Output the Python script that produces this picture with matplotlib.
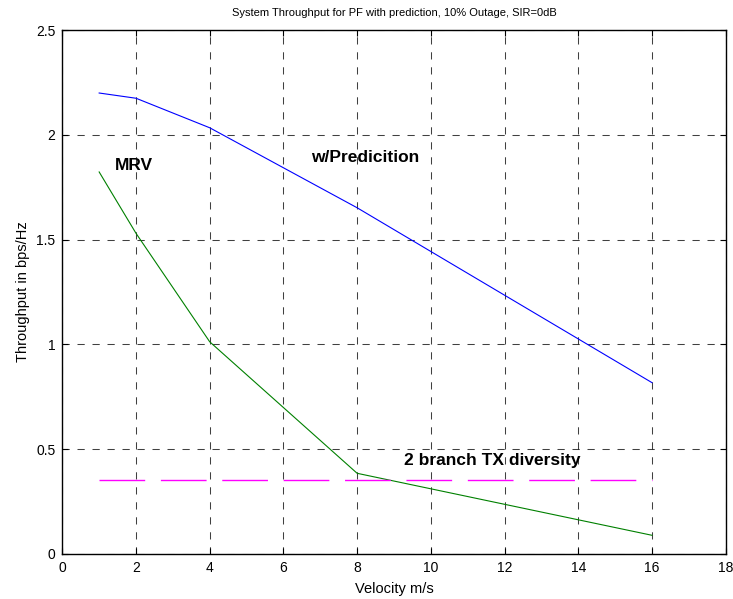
import matplotlib
matplotlib.use("Agg")
import matplotlib.pyplot as plt

# data
velocity = [1, 2, 4, 8, 16]
thr_prediction = [2.20, 2.175, 2.034, 1.652, 0.817]
thr_mrv = [1.823, 1.53, 1.012, 0.384, 0.088]
tx_div_x = [1, 16]
tx_div_y = [0.352, 0.352]

x_ticks = [0, 2, 4, 6, 8, 10, 12, 14, 16, 18]
y_ticks = [0, 0.5, 1, 1.5, 2, 2.5]

plt.rcParams['font.family'] = ['Liberation Sans', 'DejaVu Sans']
plt.rcParams['lines.scale_dashes'] = False

fig = plt.figure(figsize=(7.33, 5.99), dpi=100)
ax = fig.add_axes([0.085, 0.0756, 0.905, 0.874])

ax.plot(velocity, thr_prediction, color=(0, 0, 1), linewidth=0.8)
ax.plot(velocity, thr_mrv, color=(0, 0.5, 0), linewidth=0.8)
ax.plot(tx_div_x, tx_div_y, color=(1, 0, 1), linewidth=1.0,
        dashes=(32.9, 11.3))

ax.text(1.43, 1.856, 'MRV', fontsize=12.5, fontweight='bold', va='center')
ax.text(6.76, 1.89, 'w/Predicition', fontsize=12.5, fontweight='bold', va='center')
ax.text(9.26, 0.443, '2 branch TX diversity', fontsize=12.5, fontweight='bold',
        va='center')

ax.set_xlim(0, 18)
ax.set_ylim(0, 2.5)
ax.set_xticks(x_ticks)
ax.set_yticks(y_ticks)
ax.set_xticklabels([str(t) for t in x_ticks])
ax.set_yticklabels(['0', '0.5', '1', '1.5', '2', '2.5'])
ax.tick_params(direction='in', length=4, width=0.8, labelsize=10,
               top=True, right=True, pad=5)
ax.grid(True, color='black', linestyle=(0, (5.2, 5.6)), linewidth=0.75,
        alpha=0.75)
for s in ax.spines.values():
    s.set_linewidth(1.0)

ax.set_title('System Throughput for PF with prediction, 10% Outage, SIR=0dB',
             fontsize=8, pad=10)
ax.set_xlabel('Velocity m/s', fontsize=10.5, labelpad=5)
ax.set_ylabel('Throughput in bps/Hz', fontsize=10.5, labelpad=4)

fig.savefig('out.png', dpi=100)
